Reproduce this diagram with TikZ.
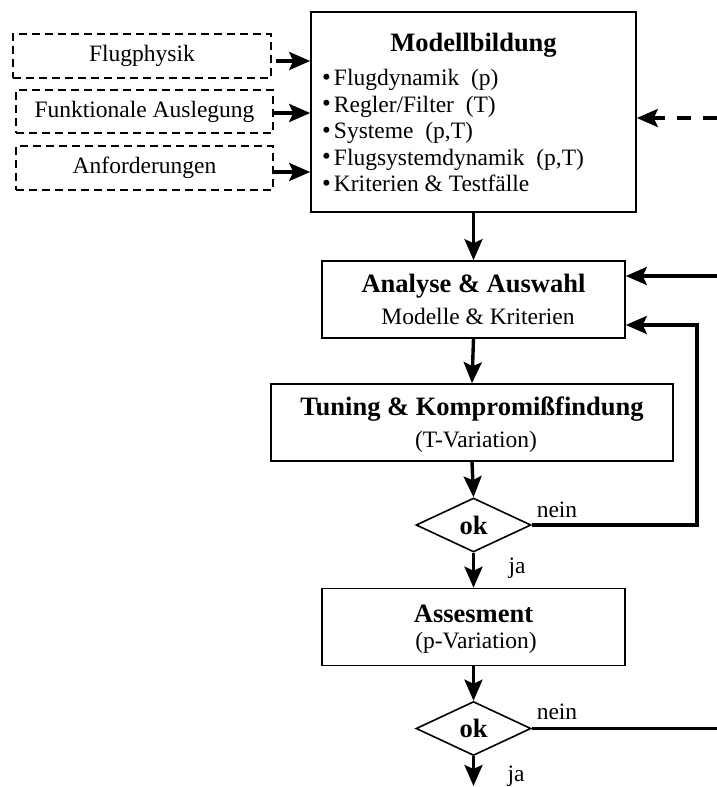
\documentclass[tikz,border=0pt]{standalone}
\usepackage{fontspec}
\setmainfont{Liberation Serif}
\usetikzlibrary{arrows.meta,shapes.geometric,calc}
\newcommand{\nrm}{\fontsize{23.5}{26.5}\selectfont}
\newcommand{\bld}{\fontsize{26.5}{30}\selectfont\bfseries}
\newcommand{\bul}{{\fontsize{25}{25}\selectfont\raisebox{0.5pt}{\textbullet}}\hspace{3pt}}
\begin{document}
\begin{tikzpicture}[x=1pt,y=-1pt,
  box/.style={draw,line width=1.6pt,inner sep=0pt},
  dbox/.style={draw,line width=1.6pt,dash pattern=on 8pt off 5pt,inner sep=0pt,font=\nrm},
  dia/.style={draw,line width=1.6pt,diamond,shape aspect=2,inner sep=0pt,minimum width=115pt,minimum height=54pt,font=\bld},
  txt/.style={inner sep=0pt,text height=16pt,text depth=5pt},
  arr/.style={line width=3.4pt,-{Stealth[length=21pt,width=18pt,inset=4pt]}},
  ln/.style={line width=3.4pt},
  lbl/.style={inner sep=0pt,font=\nrm}]
\useasboundingbox (0,0) rectangle (717,787);

% input boxes
\node[dbox,minimum width=258pt,minimum height=44pt] (fp) at (142,56) {Flugphysik};
\node[dbox,minimum width=257pt,minimum height=43pt] (fa) at (144.5,111.5) {Funktionale Auslegung};
\node[dbox,minimum width=257pt,minimum height=44pt] (af) at (144.5,168) {Anforderungen};

% Modellbildung
\node[box,minimum width=325pt,minimum height=200pt] (mb) at (473.5,112) {};
\node[inner sep=0pt,font=\bld] (mbt) at (473.5,45) {Modellbildung};
\node[txt,anchor=west,font=\nrm] (l1) at (322,80) {\bul Flugdynamik\ \ (p)};
\node[txt,anchor=west,font=\nrm] (l2) at (322,106.5) {\bul Regler/Filter\ \ (T)};
\node[txt,anchor=west,font=\nrm] (l3) at (322,133) {\bul Systeme\ \ (p,T)};
\node[txt,anchor=west,font=\nrm] (l4) at (322,159.5) {\bul Flugsystemdynamik\ \ (p,T)};
\node[txt,anchor=west,font=\nrm] (l5) at (322,186) {\bul Kriterien \& Testf\"alle};

% Analyse
\node[box,minimum width=303pt,minimum height=77pt] (an) at (473.5,299.5) {};
\node[inner sep=0pt,font=\bld] (ant) at (473.5,286) {Analyse \& Auswahl};
\node[inner sep=0pt,font=\nrm] (ans) at (478,316) {Modelle \& Kriterien};

% Tuning
\node[box,minimum width=402pt,minimum height=77pt] (tu) at (472,422.5) {};
\node[inner sep=0pt,font=\bld] (tut) at (472,409) {Tuning \& Kompromi\ss findung};
\node[inner sep=0pt,font=\nrm] (tus) at (476,442) {(T-Variation)};

% decision 1
\node[dia] (ok1) at (473.5,525) {ok};

% Assesment
\node[box,minimum width=303pt,minimum height=77pt] (as) at (473.5,627) {};
\node[inner sep=0pt,font=\bld] (ast) at (473.5,614) {Assesment};
\node[inner sep=0pt,font=\nrm] (ass) at (476,643) {(p-Variation)};

% decision 2
\node[dia] (ok2) at (473.5,728.5) {ok};

% coordinates at the picture edge
\coordinate (rin1) at (717,118);
\coordinate (rin2) at (717,276);
\coordinate (rout) at (717,728.5);
\coordinate (bot) at (473.5,786);
\coordinate (fb) at (697,525);

% connectors
\draw[arr] ([xshift=4pt,yshift=-5pt]fp.east) -- ([yshift=-5pt]fp.east -| mb.west);
\draw[arr] ([yshift=-1.5pt]fa.east) -- ([yshift=-1.5pt]fa.east -| mb.west);
\draw[arr] ([yshift=-4pt]af.east) -- ([yshift=-4pt]af.east -| mb.west);
\draw[arr,dash pattern=on 14pt off 12pt] (rin1) -- (rin1 -| mb.east);
\draw[arr] (mb.south) -- (an.north);
\draw[arr] (rin2) -- (rin2 -| an.east);
\draw[arr] (an.south) -- (tu.north);
\draw[arr] (tu.south) -- (ok1.north);
\draw[arr] (ok1.east) -- (fb) -- ([yshift=-25.5pt]an.east -| fb) -- ([yshift=-25.5pt]an.east);
\draw[arr] (ok1.south) -- (as.north);
\draw[arr] (as.south) -- (ok2.north);
\draw[ln] (ok2.east) -- (rout);
\draw[arr] (ok2.south) -- (bot);

% labels
\node[lbl] (n1) at (557,510) {nein};
\node[lbl] (j1) at (517,568) {ja};
\node[lbl] (n2) at (557,712) {nein};
\node[lbl] (j2) at (516,776) {ja};
\end{tikzpicture}
\end{document}
